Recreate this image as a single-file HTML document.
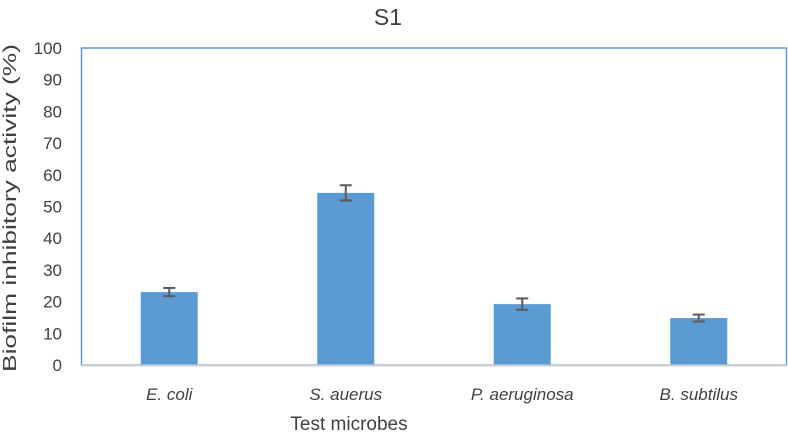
<!DOCTYPE html>
<html><head><meta charset="utf-8"><style>
html,body{margin:0;padding:0;background:#fff;}
svg{display:block;font-family:"Liberation Sans",sans-serif;}
</style></head><body>
<svg id="chart" width="788" height="435" viewBox="0 0 788 435" xmlns="http://www.w3.org/2000/svg">
<text x="388" y="25" font-size="23" fill="#404040" text-anchor="middle">S1</text>
<rect x="81.5" y="48" width="705" height="317" fill="none" stroke="#5b9bd5" stroke-width="1.5"/>
<g id="yticks"></g>
<g id="bars"></g>
<line x1="81" y1="365.5" x2="787" y2="365.5" stroke="#d0d0d0" stroke-width="2"/>
<g id="xlabels"></g>
<text x="349" y="430" font-size="19" fill="#404040" text-anchor="middle">Test microbes</text>
<text transform="translate(16,208) rotate(-90)" font-size="18" fill="#404040" text-anchor="middle" textLength="328" lengthAdjust="spacingAndGlyphs">Biofilm inhibitory activity (%)</text>
</svg>
<script>
const categories = ["E. coli", "S. auerus", "P. aeruginosa", "B. subtilus"];
const values = [23, 54.3, 19.2, 14.8];
const errors = [1.3, 2.4, 1.8, 1.1];
const yTicks = [0,10,20,30,40,50,60,70,80,90,100];
const NS="http://www.w3.org/2000/svg";
const L=81,R=787,T=48,B=365,yMax=100;
const y=v=>B-(v/yMax)*(B-T);
const bw=(R-L)/categories.length;
const x=i=>L+bw*(i+0.5);
function mk(t,a,p){const e=document.createElementNS(NS,t);for(const k in a)e.setAttribute(k,a[k]);p.appendChild(e);return e;}
const yt=document.getElementById('yticks');
yTicks.forEach(v=>{const t=mk('text',{x:62,y:y(v)+6,'font-size':17,fill:'#404040','text-anchor':'end'},yt);


t.textContent=v;});
const bg=document.getElementById('bars');
const xl=document.getElementById('xlabels');
categories.forEach((c,i)=>{
const cx=x(i),w=57;
const r=mk('rect',{x:cx-w/2,y:y(values[i]),width:w,height:B-y(values[i]),fill:'#5b9bd5'},bg);


const g=mk('g',{stroke:'#595959','stroke-width':2},bg);


const a=y(values[i]+errors[i]),b=y(values[i]-errors[i]);
mk('line',{x1:cx,x2:cx,y1:a,y2:b},g);
mk('line',{x1:cx-6,x2:cx+6,y1:a,y2:a},g);
mk('line',{x1:cx-6,x2:cx+6,y1:b,y2:b},g);
const t=mk('text',{x:cx,y:400,'font-size':17,'font-style':'italic',fill:'#404040','text-anchor':'middle'},xl);


t.textContent=c;
});
</script>
</body></html>
